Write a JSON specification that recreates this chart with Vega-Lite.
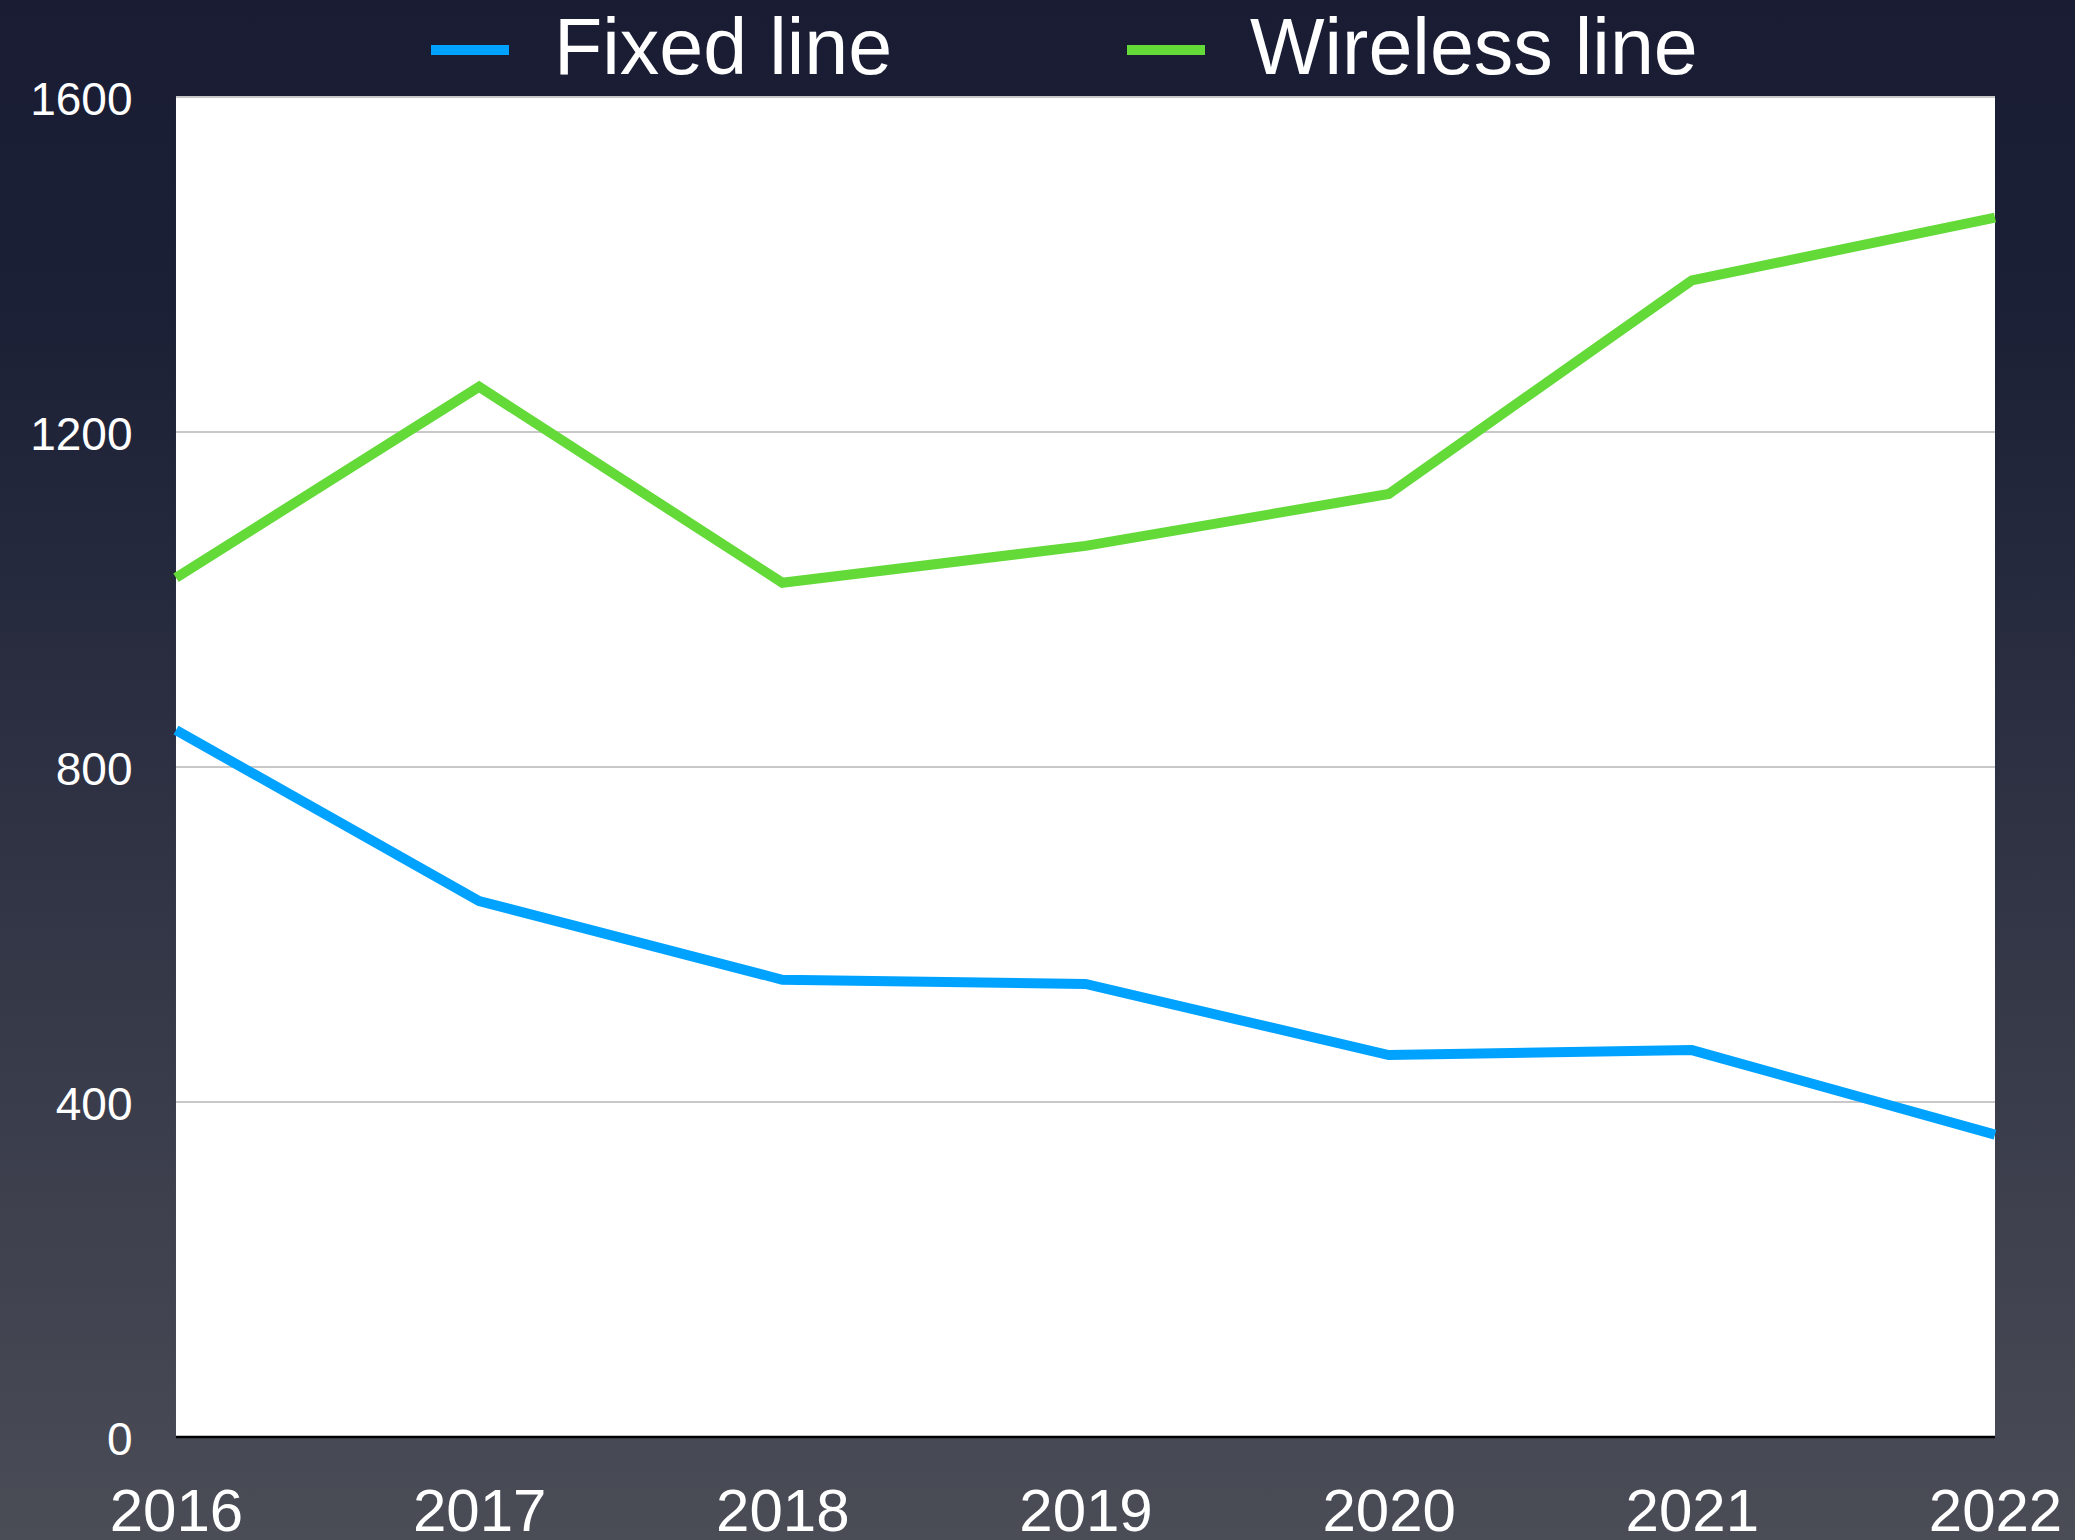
{
  "$schema": "https://vega.github.io/schema/vega-lite/v6.json",
  "width": 2075,
  "height": 1540,
  "autosize": {"type": "none"},
  "padding": 0,
  "config": {
    "view": {
      "fill": {"gradient": "linear", "x1": 0, "y1": 0, "x2": 0, "y2": 1, "stops": [{"offset": 0, "color": "#191c33"}, {"offset": 0.2, "color": "#1c2036"}, {"offset": 1, "color": "#4a4c56"}]},
      "stroke": null
    },
    "font": "Liberation Sans"
  },
  "datasets": {
    "series": [
      {"year": 2016, "series": "Fixed line", "value": 844},
      {"year": 2017, "series": "Fixed line", "value": 640},
      {"year": 2018, "series": "Fixed line", "value": 546},
      {"year": 2019, "series": "Fixed line", "value": 541},
      {"year": 2020, "series": "Fixed line", "value": 456},
      {"year": 2021, "series": "Fixed line", "value": 462},
      {"year": 2022, "series": "Fixed line", "value": 361},
      {"year": 2016, "series": "Wireless line", "value": 1026},
      {"year": 2017, "series": "Wireless line", "value": 1254},
      {"year": 2018, "series": "Wireless line", "value": 1020},
      {"year": 2019, "series": "Wireless line", "value": 1064},
      {"year": 2020, "series": "Wireless line", "value": 1126},
      {"year": 2021, "series": "Wireless line", "value": 1381},
      {"year": 2022, "series": "Wireless line", "value": 1456}
    ],
    "plot": [{"x0": 2016, "x1": 2022, "y0": 0, "y1": 1600}],
    "grid": [{"tick": 400}, {"tick": 800}, {"tick": 1200}, {"tick": 1600}]
  },
  "encoding": {
    "x": {
      "type": "quantitative",
      "scale": {"domain": [2015.4195, 2022.2639], "nice": false, "zero": false},
      "title": null,
      "axis": {
        "title": null, "values": [2016, 2017, 2018, 2019, 2020, 2021, 2022], "format": "d",
        "grid": false, "ticks": false, "tickSize": 0, "domain": false, "offset": -103,
        "labelFontSize": 60, "labelColor": "white", "labelPadding": 46,
        "labelFlush": false, "labelOverlap": false
      }
    },
    "y": {
      "type": "quantitative",
      "scale": {"domain": [-122.99, 1715.82], "nice": false, "zero": false},
      "title": null,
      "axis": {
        "title": null, "values": [0, 400, 800, 1200, 1600], "format": "d",
        "grid": false, "ticks": false, "tickSize": 0, "domain": false, "offset": -176,
        "labelFontSize": 46, "labelColor": "white", "labelPadding": 44, "labelOffset": 4,
        "labelFlush": false, "labelOverlap": false
      }
    }
  },
  "layer": [
    {
      "data": {"name": "plot"},
      "mark": {"type": "rect", "fill": "white"},
      "encoding": {
        "x": {"field": "x0", "type": "quantitative"},
        "x2": {"field": "x1"},
        "y": {"field": "y0", "type": "quantitative"},
        "y2": {"field": "y1"}
      }
    },
    {
      "data": {"name": "grid"},
      "mark": {"type": "rule", "color": "#c8c8c8", "strokeWidth": 2},
      "encoding": {
        "x": {"datum": 2016, "type": "quantitative"},
        "x2": {"datum": 2022},
        "y": {"field": "tick", "type": "quantitative"}
      }
    },
    {
      "data": {"name": "plot"},
      "mark": {"type": "rule", "color": "#000000", "strokeWidth": 2.5},
      "encoding": {
        "x": {"field": "x0", "type": "quantitative"},
        "x2": {"field": "x1"},
        "y": {"field": "y0", "type": "quantitative"}
      }
    },
    {
      "data": {"name": "series"},
      "mark": {"type": "line", "strokeWidth": 10, "strokeJoin": "miter", "strokeCap": "butt"},
      "encoding": {
        "x": {"field": "year", "type": "quantitative"},
        "y": {"field": "value", "type": "quantitative"},
        "color": {
          "field": "series", "type": "nominal",
          "scale": {"domain": ["Fixed line", "Wireless line"], "range": ["#00a2ff", "#63da38"]},
          "legend": {
            "title": null, "orient": "none", "legendX": 426, "legendY": 6,
            "direction": "horizontal", "padding": 0,
            "symbolType": "stroke", "symbolSize": 6084, "symbolStrokeWidth": 10,
            "labelFontSize": 79, "labelColor": "white", "labelOffset": 40,
            "labelLimit": 1000, "columnPadding": 214
          }
        }
      }
    }
  ]
}
